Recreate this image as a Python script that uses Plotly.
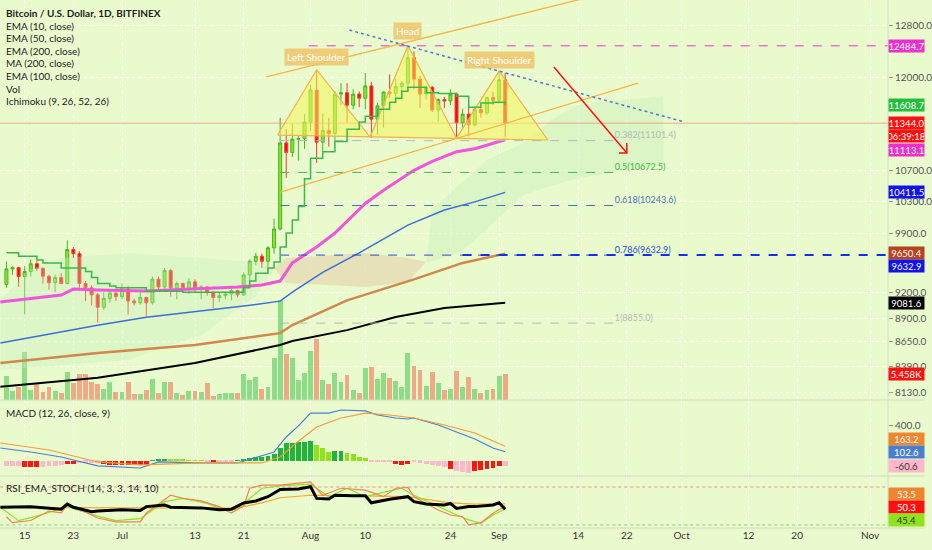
import numpy as np
import pandas as pd
import plotly.graph_objects as go

# ---------------- data ----------------
dates = pd.date_range("2020-06-12", "2020-09-02", freq="D")
open_ = [9290, 9470, 9485, 9380, 9440, 9530, 9475, 9385, 9310, 9370, 9300, 9700, 9650, 9300, 9250, 9170, 9030, 9130, 9190,
         9150, 9240, 9100, 9080, 9140, 9080, 9350, 9260, 9450, 9250, 9300, 9250, 9320, 9250, 9260, 9200, 9140, 9160, 9180, 9220,
         9170, 9400, 9560, 9620, 9560, 9720, 9950, 11070, 10940, 11120, 11130,
         11360, 11820, 11080, 11240, 11200, 11760, 11780, 11600, 11760, 11700, 11880, 11400, 11590, 11790, 11770, 11870, 11920,
         12300, 11980, 11760, 11860, 11530, 11680, 11660, 11760, 11350, 11470, 11320, 11540, 11490, 11710,
         11670, 11970]
high = [9560, 9500, 9495, 9500, 9580, 9560, 9490, 9400, 9400, 9420, 9810, 9730, 9680, 9330, 9280, 9190, 9200, 9230, 9200,
        9300, 9270, 9130, 9200, 9150, 9380, 9380, 9480, 9470, 9320, 9310, 9360, 9350, 9280, 9270, 9210, 9190, 9200, 9240, 9230,
        9430, 9580, 9660, 9650, 9740, 10080, 11420, 11260, 11340, 11180, 11470,
        11900, 12120, 11480, 11420, 11800, 11920, 11920, 11830, 11800, 12070, 11940, 11630, 11800, 12050, 11990, 11950, 12484.7,
        12400, 12030, 11880, 11880, 11700, 11720, 11830, 11780, 11550, 11580, 11560, 11590, 11720, 11790,
        12100, 12070]
low = [9250, 9400, 9260, 8950, 9380, 9450, 9300, 9230, 9200, 9290, 9290, 9600, 9220, 9100, 9050, 8860, 9000, 9080, 9100,
       9120, 8950, 9050, 9060, 8930, 9060, 9220, 9240, 9150, 9120, 9200, 9180, 9200, 9120, 9160, 9020, 9090, 9120, 9110, 9140,
       9160, 9300, 9510, 9480, 9450, 9650, 9930, 10600, 10880, 10830, 10990,
       11230, 10800, 10950, 11020, 11100, 11600, 11350, 11540, 11570, 11540, 11140, 11180, 11280, 11700, 11700, 11700, 11800,
       11830, 11560, 11680, 11500, 11370, 11560, 11600, 11130, 11260, 11160, 11300, 11420, 11460, 11600,
       11620, 11150]
close = [9470, 9485, 9380, 9440, 9530, 9475, 9385, 9310, 9370, 9300, 9700, 9650, 9300, 9250, 9170, 9030, 9130, 9190, 9150,
         9240, 9100, 9080, 9140, 9080, 9350, 9260, 9450, 9250, 9300, 9250, 9320, 9250, 9260, 9200, 9140, 9160, 9180, 9220, 9170,
         9400, 9560, 9620, 9560, 9720, 9950, 11070, 10940, 11120, 11130, 11360,
         11820, 11080, 11240, 11200, 11760, 11780, 11600, 11760, 11700, 11880, 11400, 11590, 11790, 11770, 11870, 11920, 12300,
         11980, 11760, 11860, 11530, 11680, 11660, 11760, 11350, 11470, 11320, 11540, 11490, 11710, 11670,
         11970, 11344]
volume = [5040, 1890, 2730, 10080, 2100, 3360, 1680, 2730, 1890, 1470, 5880, 3570, 5460, 5460, 3780, 3360, 2310, 3780, 1680,
          1680, 3780, 1260, 1260, 2100, 4410, 1470, 3780, 3780, 1470, 1050, 1890, 1890, 1680, 3570, 840, 1260, 1470, 1470, 1470,
          5460, 4200, 4830, 2310, 2730, 8820, 21000, 9660, 8820, 4200, 5670,
          10290, 12810, 4200, 3360, 5670, 3780, 5250, 2100, 1470, 6720, 6930, 4410, 5670, 4620, 3990, 2730, 9870, 7140, 6300, 2940,
          5880, 3570, 2100, 2310, 6090, 2730, 4830, 2310, 1470, 2100, 2310,
          5040, 5458]
conv_line = [9660, 9660, 9620, 9620, 9620, 9575, 9540, 9540, 9540, 9480, 9480, 9480, 9480, 9440, 9370, 9300, 9300, 9270, 9250,
             9250, 9250, 9250, 9250, 9210, 9210, 9210, 9210, 9210, 9210, 9200, 9200, 9200, 9200, 9200, 9200, 9200, 9200, 9200, 9200,
             9250, 9330, 9420, 9420, 9480, 9550, 9730, 9900, 10060, 10230, 10590,
             10860, 10860, 10950, 10950, 11090, 11090, 11260, 11260, 11360, 11440, 11440, 11540, 11540, 11640, 11700, 11800, 11860,
             11860, 11860, 11780, 11780, 11770, 11770, 11770, 11730, 11730, 11570, 11570, 11630, 11630, 11640,
             11640, 11608.7]

ema50_dates = ["2020-06-11", "2020-06-21", "2020-06-23", "2020-06-27", "2020-07-05", "2020-07-13", "2020-07-20", "2020-07-24",
               "2020-07-27", "2020-07-29", "2020-08-02", "2020-08-05", "2020-08-10", "2020-08-13", "2020-08-18", "2020-08-21",
               "2020-08-25", "2020-08-28", "2020-08-31", "2020-09-02"]
ema50_vals = [9089, 9168, 9236, 9225, 9214, 9236, 9259, 9282, 9328, 9540, 9730, 9900, 10270, 10440, 10700, 10820, 10950,
              10990, 11070, 11113.1]
ema100_dates = ["2020-06-11", "2020-06-27", "2020-07-05", "2020-07-13", "2020-07-21", "2020-07-27", "2020-07-29", "2020-08-03",
                "2020-08-09", "2020-08-17", "2020-08-23", "2020-08-28", "2020-09-02"]
ema100_vals = [8639, 8832, 8918, 8979, 9043, 9099, 9200, 9429, 9660, 9998, 10186, 10290, 10411.5]
ema200_dates = ["2020-06-11", "2020-06-27", "2020-07-13", "2020-07-27", "2020-07-29", "2020-08-07", "2020-08-18", "2020-08-26",
                "2020-09-02"]
ema200_vals = [8428, 8533, 8617, 8745, 8833, 9107, 9347, 9540, 9650.4]
ma200_dates = ["2020-06-11", "2020-06-27", "2020-07-13", "2020-07-27", "2020-07-29", "2020-08-07", "2020-08-15", "2020-08-23",
               "2020-09-02"]
ma200_vals = [8183, 8274, 8428, 8617, 8660, 8778, 8922, 9023, 9081.6]

# Ichimoku cloud (span A / span B), three segments
cloud1_dates = ["2020-06-11", "2020-06-16", "2020-06-21", "2020-07-02", "2020-07-14", "2020-07-23", "2020-07-26"]
cloud1_a = [9111, 9456, 9598, 9657, 9598, 9551, 9480]
cloud1_b = [8355, 8380, 8408, 8459, 8725, 9150, 9480]
cloud2_dates = ["2020-07-26", "2020-07-28", "2020-08-10", "2020-08-17", "2020-08-20"]
cloud2_b = [9480, 9598, 9657, 9598, 9551]
cloud2_a = [9480, 9305, 9260, 9317, 9551]
cloud3_dates = ["2020-08-20", "2020-08-21", "2020-08-25", "2020-08-27", "2020-08-30", "2020-09-05", "2020-09-10",
                "2020-09-14", "2020-09-28"]
cloud3_a = [9551, 10186, 10481, 10612, 10837, 11068, 11417, 11602, 11731]
cloud3_b = [9551, 9560, 9650, 9750, 9950, 10377, 10507, 10600, 10770]

# head & shoulders drawing
hs_dates = ["2020-07-26 14:00", "2020-08-02", "2020-08-10 19:00", "2020-08-17", "2020-08-25", "2020-09-01", "2020-09-09",
            "2020-07-26 14:00"]
hs_prices = [11178, 12120, 11150, 12484.7, 11137, 12100, 11110, 11178]
hs_labels = ["Left Shoulder", "Head", "Right Shoulder"]
hs_label_dates = ["2020-08-02", "2020-08-17", "2020-09-01"]
hs_label_prices = [12313, 12714, 12264]

chan_up_dates = ["2020-07-24 17:00", "2020-09-15 05:00"]
chan_up_prices = [12012, 13246]
chan_lo_dates = ["2020-07-27 02:00", "2020-09-23 20:00"]
chan_lo_prices = [10416, 11922]
trend_dates = ["2020-08-07 09:00", "2020-10-01 12:00"]
trend_prices = [12731, 11360]
arrow_dates = ["2020-09-10", "2020-09-22"]
arrow_prices = [12161, 10932]
arrowhead_dates = ["2020-09-20 17:00", "2020-09-22", "2020-09-22"]
arrowhead_prices = [10932, 10932, 11068]

fib_ratios = ["0.382", "0.5", "0.618", "0.786", "1", "1.272"]
fib_levels = [11101.4, 10672.5, 10243.6, 9632.9, 8855.0, 7937.1]
fib_colors = ["#b8b8b8", "#43b84a", "#4a74b8", "#2c4fd0", "#b8b8b8", "#b8b8b8"]
fib_start, fib_end = "2020-07-27", "2020-09-20"

last_price = 11344.0
head_high = 12484.7

# MACD
macd_dates = ["2020-06-11", "2020-06-16", "2020-06-21", "2020-06-27", "2020-07-04", "2020-07-07", "2020-07-14", "2020-07-20",
              "2020-07-26", "2020-07-28", "2020-07-30", "2020-08-01", "2020-08-04", "2020-08-06", "2020-08-10", "2020-08-12",
              "2020-08-15", "2020-08-17", "2020-08-18", "2020-08-22", "2020-08-25", "2020-08-28", "2020-08-31", "2020-09-01",
              "2020-09-02"]
macd_vals = [144, 100, 44, -55, -78, -11, -22, -22, 100, 267, 390, 533, 533, 567, 556, 511, 478, 467, 478, 400, 322, 244, 144,
             122, 102.6]
signal_dates = ["2020-06-11", "2020-06-19", "2020-06-27", "2020-07-04", "2020-07-14", "2020-07-24", "2020-07-27", "2020-07-30",
                "2020-08-02", "2020-08-06", "2020-08-10", "2020-08-14", "2020-08-18", "2020-08-23", "2020-08-28", "2020-08-31",
                "2020-09-02"]
signal_vals = [200, 122, -11, -44, -22, -22, 44, 220, 378, 478, 533, 511, 478, 400, 311, 222, 163.2]
hist_vals = [-60, -58, -56, -66, -70, -72, -64, -58, -52, -46, -34, -30, -24, -22, -20, -18, -36, -40, -42, -40, -44, -45, -42,
             -40, 8, 12, 20, 16, 14, 12, 10, 8, 5, -4, -6, -5, -3, -2, 3, 15, 30, 40, 45, 55, 75, 144, 195, 200, 208, 215, 222,
             178, 144, 100, 111, 115, 92, 80, 45, 32, -6, -8, -10, -12, -36, -40, -28, -16, -22, -30, -42, -55, -66, -85,
             -112, -122, -130, -112, -105, -89, -75, -58, -60.6]
hist_codes = list("PPP" "RRR" "PPPP" "RR" "PPPP" "RRRRRRRR" "GGG" "LLLLLL" "P" "R" "PPP" "GGGGGGGGGGGGG" "LLL" "GG" "LLLL"
                  "PPPP" "RRR" "PPPPPP" "R" "PPP" "RRRRR" "P")

# RSI_EMA_STOCH
rsi_dates = ["06-11", "06-16", "06-21", "06-22", "06-23", "06-26", "06-27", "07-01", "07-04", "07-05", "07-08", "07-09",
             "07-14", "07-17", "07-19", "07-21", "07-23", "07-25", "07-27", "07-28", "07-30", "08-01", "08-02", "08-04",
             "08-05", "08-08", "08-10", "08-11", "08-14", "08-17", "08-18", "08-20", "08-23", "08-24", "08-25", "08-27",
             "08-28", "08-31", "09-01", "09-02"]
rsi_vals = [48, 48.7, 45, 53, 48, 41, 42, 44, 43, 49, 51.6, 48, 47, 44, 45, 54.7, 58, 64.7, 76, 76, 77, 80.5, 62, 61, 67, 66,
            66, 55, 60.6, 64.7, 56.8, 53, 51.6, 54, 46, 49, 49, 51.6, 55, 44.8]
rsi_ema_dates = ["06-11", "06-27", "07-14", "07-20", "07-24", "07-27", "08-01", "08-10", "08-17", "08-24", "08-28", "09-02"]
rsi_ema_vals = [48, 47, 46.5, 47, 55, 63, 67, 66, 64.7, 55, 53, 53.5]
stoch_k_dates = ["06-12", "06-13", "06-16", "06-19", "06-21", "06-22", "06-24", "06-27", "06-30", "07-04", "07-05", "07-08",
                 "07-09", "07-11", "07-14", "07-17", "07-19", "07-21", "07-22", "07-24", "07-27", "08-01", "08-03", "08-06",
                 "08-10", "08-13", "08-15", "08-17", "08-18", "08-22", "08-24", "08-26", "08-27", "08-29", "08-31", "09-02"]
stoch_k_vals = [33, 23.6, 27, 42, 39, 51.6, 45, 31, 25, 25, 39, 60.6, 67, 62, 58, 49, 39, 50, 78, 83, 83, 88, 67, 78, 75, 64.7,
                78, 79.5, 64.7, 43.7, 35.8, 33, 20, 23.6, 38.5, 50.3]
stoch_d_dates = ["06-11", "06-14", "06-17", "06-22", "06-27", "06-30", "07-04", "07-08", "07-11", "07-15", "07-19", "07-21",
                 "07-24", "07-27", "08-01", "08-04", "08-07", "08-10", "08-14", "08-16", "08-18", "08-22", "08-25", "08-27",
                 "08-29", "08-31", "09-02"]
stoch_d_vals = [48, 26.8, 34, 49, 34, 27, 30, 56.8, 62, 54, 39, 54, 78, 81.6, 84.7, 64.7, 78, 64.7, 74, 78, 67, 49, 35.8, 28,
                22.7, 35.8, 45.4]
rsi_upper, rsi_lower = 80, 20

price_ticks = [8130, 8390, 8650, 8900, 9200, 9900, 10300, 10700, 12000, 12800]
xtick_dates = ["2020-06-15", "2020-06-23", "2020-07-01", "2020-07-13", "2020-07-21", "2020-08-01", "2020-08-10", "2020-08-24",
               "2020-09-01", "2020-09-14", "2020-09-22", "2020-10-01", "2020-10-12", "2020-10-20", "2020-11-01"]
xtick_labels = ["15", "23", "Jul", "13", "21", "Aug", "10", "24", "Sep", "14", "22", "Oct", "12", "20", "Nov"]

legend_lines = ["<b>Bitcoin / U.S. Dollar, 1D, BITFINEX</b>", "EMA (10, close)", "EMA (50, close)", "EMA (200, close)",
                "MA (200, close)", "EMA (100, close)", "Vol", "Ichimoku (9, 26, 52, 26)"]


def y20(lst):
    return ["2020-" + s for s in lst]


# ---------------- figure ----------------
BG = "#E9FBCD"
FONT = "Liberation Sans Narrow, Lato, sans-serif"
fig = go.Figure()

PX = dict(xaxis="x", yaxis="y2", hoverinfo="skip", showlegend=False)

# cloud
for d, top, bot, col in [(cloud1_dates, cloud1_a, cloud1_b, "rgba(200,238,185,0.35)"),
                         (cloud2_dates, cloud2_b, cloud2_a, "rgba(228,214,176,0.7)"),
                         (cloud3_dates, cloud3_a, cloud3_b, "rgba(205,240,190,0.5)")]:
    fig.add_trace(go.Scatter(x=d, y=top, mode="lines", line=dict(width=0), **PX))
    fig.add_trace(go.Scatter(x=d, y=bot, mode="lines", line=dict(width=0), fill="tonexty", fillcolor=col, **PX))

# volume (base axis y)
vcol = ["rgba(110,210,110,0.75)" if c >= o else "rgba(240,150,115,0.8)" for o, c in zip(open_, close)]
fig.add_trace(go.Bar(x=dates, y=volume, marker=dict(color=vcol, line=dict(width=0)), width=0.8 * 86400000,
                     xaxis="x", yaxis="y", hoverinfo="skip", showlegend=False))

# moving averages
fig.add_trace(go.Scatter(x=ma200_dates, y=ma200_vals, mode="lines", line=dict(color="#000000", width=2), **PX))
fig.add_trace(go.Scatter(x=ema200_dates, y=ema200_vals, mode="lines", line=dict(color="#d0884c", width=2.5), **PX))
fig.add_trace(go.Scatter(x=ema100_dates, y=ema100_vals, mode="lines", line=dict(color="#3c6fd6", width=1.5), **PX))
fig.add_trace(go.Scatter(x=ema50_dates, y=ema50_vals, mode="lines", line=dict(color="#f055dc", width=3), **PX))

# fib levels
for r, lv, c in zip(fib_ratios, fib_levels, fib_colors):
    fig.add_trace(go.Scatter(x=[fib_start, fib_end], y=[lv, lv], mode="lines",
                             line=dict(color=c, width=1, dash="dash"), **PX))
    fig.add_trace(go.Scatter(x=[fib_end], y=[lv], mode="text", text=[f"{r}({lv:.1f})"], textposition="top right",
                             textfont=dict(color=c, size=9, family=FONT), **PX))
fig.add_trace(go.Scatter(x=["2020-08-26", "2020-11-05"], y=[fib_levels[3], fib_levels[3]], mode="lines",
                         line=dict(color="#1530e8", width=2, dash="dash"), **PX))

# horizontal lines
fig.add_trace(go.Scatter(x=["2020-06-10", "2020-11-05"], y=[last_price, last_price], mode="lines",
                         line=dict(color="rgba(245,120,90,0.6)", width=1), **PX))
fig.add_trace(go.Scatter(x=["2020-07-31 17:00", "2020-11-05"], y=[head_high, head_high], mode="lines",
                         line=dict(color="#ee33cc", width=1, dash="dash"), **PX))

# head & shoulders
fig.add_trace(go.Scatter(x=hs_dates, y=hs_prices, mode="lines", fill="toself", fillcolor="rgba(246,246,90,0.55)",
                         line=dict(color="#f2b04a", width=1.2), **PX))

# channel, trend line, arrow
fig.add_trace(go.Scatter(x=chan_up_dates, y=chan_up_prices, mode="lines", line=dict(color="#f6b545", width=1.3), **PX))
fig.add_trace(go.Scatter(x=chan_lo_dates, y=chan_lo_prices, mode="lines", line=dict(color="#f6b545", width=1.3), **PX))
fig.add_trace(go.Scatter(x=trend_dates, y=trend_prices, mode="lines", line=dict(color="#4a7fc8", width=1.5, dash="dot"), **PX))
fig.add_trace(go.Scatter(x=arrow_dates, y=arrow_prices, mode="lines", line=dict(color="#ff1010", width=1.5), **PX))
fig.add_trace(go.Scatter(x=arrowhead_dates, y=arrowhead_prices, mode="lines", line=dict(color="#ff1010", width=1.5), **PX))

# conversion (step) line
fig.add_trace(go.Scatter(x=dates, y=conv_line, mode="lines", line=dict(color="#3cb84a", width=1.5, shape="hv"), **PX))

# candles
fig.add_trace(go.Candlestick(x=dates, open=open_, high=high, low=low, close=close,
                             increasing=dict(line=dict(color="#45b52a", width=1), fillcolor="#8de51f"),
                             decreasing=dict(line=dict(color="#f0392a", width=1), fillcolor="#ff0a0a"),
                             whiskerwidth=0, **PX))

# MACD pane
hmap = {"G": "#1fb53a", "L": "#8fe31a", "P": "#ffb7cb", "R": "#ff1414"}
fig.add_trace(go.Bar(x=dates, y=hist_vals, marker=dict(color=[hmap[c] for c in hist_codes], line=dict(width=0)),
                     width=0.8 * 86400000, xaxis="x", yaxis="y3", hoverinfo="skip", showlegend=False))
fig.add_trace(go.Scatter(x=macd_dates, y=macd_vals, mode="lines", line=dict(color="#4a7fd0", width=1.2),
                         xaxis="x", yaxis="y3", hoverinfo="skip", showlegend=False))
fig.add_trace(go.Scatter(x=signal_dates, y=signal_vals, mode="lines", line=dict(color="#f39a3a", width=1.2),
                         xaxis="x", yaxis="y3", hoverinfo="skip", showlegend=False))

# RSI pane
R = dict(xaxis="x", yaxis="y4", hoverinfo="skip", showlegend=False, mode="lines")
fig.add_trace(go.Scatter(x=["2020-06-10", "2020-11-05"], y=[rsi_upper] * 2, line=dict(color="#f08a8a", width=1, dash="dot"), **R))
fig.add_trace(go.Scatter(x=["2020-06-10", "2020-11-05"], y=[rsi_lower] * 2, line=dict(color="#7fd36a", width=1, dash="dot"), **R))
fig.add_trace(go.Scatter(x=y20(rsi_ema_dates), y=rsi_ema_vals, line=dict(color="#f5a630", width=1.2), **R))
fig.add_trace(go.Scatter(x=y20(stoch_d_dates), y=stoch_d_vals, line=dict(color="#8fe31a", width=1.2), **R))
fig.add_trace(go.Scatter(x=y20(stoch_k_dates), y=stoch_k_vals, line=dict(color="#f5805a", width=1.2), **R))
fig.add_trace(go.Scatter(x=y20(rsi_dates), y=rsi_vals, line=dict(color="#000000", width=3), **R))

# ---------------- layout ----------------
H_PLOT = 528.0
d_main = [(H_PLOT - 400) / H_PLOT, 1]
d_macd = [(H_PLOT - 476) / H_PLOT, (H_PLOT - 400) / H_PLOT]
d_rsi = [0, (H_PLOT - 476) / H_PLOT]
GRID = dict(showgrid=True, gridcolor="rgba(255,255,255,0.85)", griddash="dot", gridwidth=1)

fig.update_layout(
    width=932, height=550, margin=dict(l=0, r=37, t=0, b=22),
    paper_bgcolor=BG, plot_bgcolor=BG, showlegend=False, bargap=0,
    font=dict(family=FONT, size=10, color="#333333"),
    xaxis=dict(domain=[0, 1], type="date", range=["2020-06-10 22:34", "2020-11-03 22:30"], anchor="y4",
               tickvals=xtick_dates, ticktext=xtick_labels, ticks="", showline=False, zeroline=False,
               rangeslider=dict(visible=False), tickfont=dict(size=10, color="#333333", family=FONT), **GRID),
    yaxis=dict(domain=d_main, range=[0, 84000], visible=False, anchor="x"),
    yaxis2=dict(overlaying="y", side="right", anchor="x", type="log",
                range=[np.log10(8050), np.log10(13214)], tickvals=price_ticks,
                ticktext=[f"{v:.1f}" for v in price_ticks], ticks="outside", ticklen=4, tickcolor="#999999",
                tickfont=dict(size=10, color="#555555", family=FONT), zeroline=False, **GRID),
    yaxis3=dict(domain=d_macd, side="right", anchor="x", range=[-167, 678], tickvals=[400], ticktext=["400.0"],
                ticks="outside", ticklen=4, tickcolor="#999999", tickfont=dict(size=10, color="#555555", family=FONT),
                zeroline=False, showgrid=False),
    yaxis4=dict(domain=d_rsi, side="right", anchor="x", range=[15.2, 97.4], tickvals=[], zeroline=False,
                showgrid=False),
)

shapes = []
for yp in [d_main[0], d_macd[0], 0]:
    shapes.append(dict(type="line", xref="paper", yref="paper", x0=0, x1=932 / 895, y0=yp, y1=yp,
                       line=dict(color="#cfdcbf", width=1)))
shapes.append(dict(type="line", xref="paper", yref="paper", x0=1, x1=1, y0=0, y1=1, line=dict(color="#d4e0c6", width=1)))
fig.update_layout(shapes=shapes)

ann = []
for i, t in enumerate(legend_lines):
    ann.append(dict(xref="paper", yref="paper", x=0.004, y=1 - (13 + 12.6 * i) / H_PLOT, xanchor="left",
                    yanchor="middle", text=t, showarrow=False, font=dict(size=10, color="#222222", family=FONT)))
ann.append(dict(xref="paper", yref="paper", x=0.004, y=1 - 413 / H_PLOT, xanchor="left", yanchor="middle",
                text="MACD (12, 26, close, 9)", showarrow=False, font=dict(size=10, color="#222222", family=FONT)))
ann.append(dict(xref="paper", yref="paper", x=0.004, y=1 - 488 / H_PLOT, xanchor="left", yanchor="middle",
                text="RSI_EMA_STOCH (14, 3, 3, 14, 10)", showarrow=False,
                font=dict(size=10, color="#222222", family=FONT)))

for t, dx, py in zip(hs_labels, hs_label_dates, hs_label_prices):
    ann.append(dict(xref="x", yref="y2", x=dx, y=np.log10(py), text=t, showarrow=False,
                    bgcolor="rgba(240,196,105,0.85)", borderpad=2, font=dict(size=10, color="white", family=FONT)))


def rlabel(text, yval, yref, bg, fc="white", shift=0):
    ann.append(dict(xref="paper", yref=yref, x=1, y=yval, xanchor="left", yanchor="middle", text=text,
                    showarrow=False, bgcolor=bg, width=35, height=12, borderpad=0, yshift=shift,
                    font=dict(size=9.5, color=fc, family=FONT)))


rlabel("12484.7", np.log10(head_high), "y2", "#ee2fcf")
rlabel("11608.7", np.log10(conv_line[-1]), "y2", "#25be3c")
rlabel(f"{last_price:.1f}", np.log10(last_price), "y2", "#ff1010")
rlabel("06:39:18", np.log10(last_price), "y2", "#ff1010", shift=-13)
rlabel(f"{ema50_vals[-1]:.1f}", np.log10(ema50_vals[-1]), "y2", "#ee2fcf", shift=-10)
rlabel(f"{ema100_vals[-1]:.1f}", np.log10(ema100_vals[-1]), "y2", "#1212ee")
rlabel(f"{ema200_vals[-1]:.1f}", np.log10(ema200_vals[-1]), "y2", "#b8421e", shift=1)
rlabel(f"{fib_levels[3]:.1f}", np.log10(fib_levels[3]), "y2", "#1212ee", shift=-11)
rlabel(f"{ma200_vals[-1]:.1f}", np.log10(ma200_vals[-1]), "y2", "#000000")
rlabel("5.458K", volume[-1], "y", "#ff1010")
rlabel(f"{signal_vals[-1]:.1f}", signal_vals[-1], "y3", "#f08530", shift=7)
rlabel(f"{macd_vals[-1]:.1f}", macd_vals[-1], "y3", "#4a7fd0")
rlabel(f"{hist_vals[-1]:.1f}", hist_vals[-1], "y3", "#ffb7cb", fc="#333333")
rlabel(f"{rsi_ema_vals[-1]:.1f}", rsi_ema_vals[-1], "y4", "#f08530", shift=10)
rlabel(f"{stoch_k_vals[-1]:.1f}", stoch_k_vals[-1], "y4", "#ff1010", shift=-1)
rlabel(f"{stoch_d_vals[-1]:.1f}", stoch_d_vals[-1], "y4", "#8fe31a", fc="#333333", shift=-11)
fig.update_layout(annotations=ann)

fig.write_html("out.html", config={"displayModeBar": False},
               post_script="document.body.style.margin='0';document.body.style.overflow='hidden';")
